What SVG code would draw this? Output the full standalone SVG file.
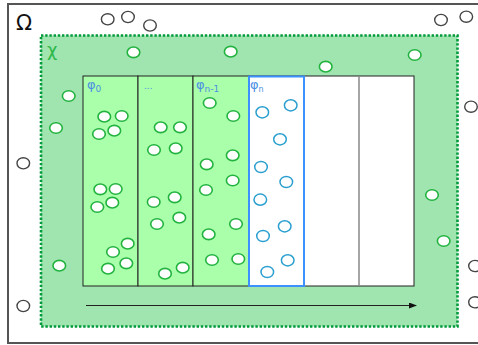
<svg xmlns="http://www.w3.org/2000/svg" width="478" height="345" viewBox="0 0 478 345">
<style>
.g{fill:#fff;stroke:#22b33f;stroke-width:1.6}
.b{fill:#fff;stroke:#2a9fd0;stroke-width:1.5}
.k{fill:#fff;stroke:#444;stroke-width:1.4}
.lab{font-family:"DejaVu Sans",sans-serif;fill:#4a90e2}
.strip{stroke:#222;stroke-width:1}
</style>
<defs>
<marker id="ah" markerWidth="8" markerHeight="6" refX="7" refY="3" orient="auto" markerUnits="userSpaceOnUse">
<path d="M0,0 L8,3 L0,6 Z" fill="#111"/>
</marker>
</defs>
<rect width="478" height="345" fill="#fff"/>
<g id="omega">
<rect x="8" y="4" width="480" height="339" fill="none" stroke="#555" stroke-width="2"/>
<text x="16" y="30" font-family="DejaVu Sans,sans-serif" font-size="21" fill="#111">Ω</text>
</g>
<g id="chi">
<rect x="41" y="35.5" width="416.5" height="291" fill="#a0e4b0" stroke="#009a3a" stroke-width="2.6" stroke-dasharray="2.4 1.8"/>
<text x="47" y="56" font-family="DejaVu Sans,sans-serif" font-size="18" fill="#2db84a">χ</text>
</g>
<g id="strips">
<rect id="phi0" class="strip" x="83" y="76" width="55" height="210" fill="#aaffaa"/>
<rect id="phidots" class="strip" x="138" y="76" width="55" height="210" fill="#aaffaa"/>
<rect id="phin1" class="strip" x="193" y="76" width="56" height="210" fill="#aaffaa"/>
<rect class="strip" x="249" y="76" width="165" height="210" fill="#fff"/>
<line x1="359" y1="76" x2="359" y2="286" stroke="#888" stroke-width="1.5"/>
<rect id="phin" x="249" y="76.5" width="55" height="209.5" fill="#fff" stroke="#3c90ff" stroke-width="2"/>
<text class="lab" x="87" y="89" font-size="13">φ<tspan font-size="9" dy="3">0</tspan></text>
<text class="lab" x="144" y="89" font-size="9">...</text>
<text class="lab" x="196" y="89" font-size="13">φ<tspan font-size="9" dy="3">n-1</tspan></text>
<text class="lab" x="250" y="89" font-size="13">φ<tspan font-size="8" dy="3">n</tspan></text>
</g>
<g id="connectors">
<line x1="86" y1="305.5" x2="416" y2="305.5" stroke="#222" stroke-width="1" marker-end="url(#ah)"/>
</g>
<g id="gray-circles">
<ellipse class="k" cx="107.7" cy="19.3" rx="6.3" ry="5.6"/>
<ellipse class="k" cx="128" cy="17" rx="6.3" ry="5.6"/>
<ellipse class="k" cx="150" cy="25.5" rx="6.3" ry="5.6"/>
<ellipse class="k" cx="441" cy="20" rx="6.3" ry="5.6"/>
<ellipse class="k" cx="466.3" cy="16.7" rx="6.3" ry="5.6"/>
<ellipse class="k" cx="471" cy="106.7" rx="6.3" ry="5.6"/>
<ellipse class="k" cx="23.3" cy="163.3" rx="6.3" ry="5.6"/>
<ellipse class="k" cx="475" cy="266" rx="6.3" ry="5.6"/>
<ellipse class="k" cx="23.3" cy="306" rx="6.3" ry="5.6"/>
<ellipse class="k" cx="475" cy="302.3" rx="6.3" ry="5.6"/>
</g>
<g id="green-circles">
<ellipse class="g" cx="133.5" cy="52.3" rx="6.3" ry="5.3"/>
<ellipse class="g" cx="230.7" cy="51.7" rx="6.3" ry="5.3"/>
<ellipse class="g" cx="325.7" cy="66.7" rx="6.3" ry="5.3"/>
<ellipse class="g" cx="414.7" cy="55" rx="6.3" ry="5.3"/>
<ellipse class="g" cx="68.7" cy="96" rx="6.3" ry="5.3"/>
<ellipse class="g" cx="56" cy="128" rx="6.3" ry="5.3"/>
<ellipse class="g" cx="432" cy="195" rx="6.3" ry="5.3"/>
<ellipse class="g" cx="443.7" cy="241" rx="6.3" ry="5.3"/>
<ellipse class="g" cx="59.3" cy="265.7" rx="6.3" ry="5.3"/>
<ellipse class="g" cx="104.3" cy="116.7" rx="6.3" ry="5.3"/>
<ellipse class="g" cx="121.7" cy="116" rx="6.3" ry="5.3"/>
<ellipse class="g" cx="99" cy="134" rx="6.3" ry="5.3"/>
<ellipse class="g" cx="114.3" cy="130.7" rx="6.3" ry="5.3"/>
<ellipse class="g" cx="100.3" cy="189.3" rx="6.3" ry="5.3"/>
<ellipse class="g" cx="115.7" cy="189" rx="6.3" ry="5.3"/>
<ellipse class="g" cx="97.3" cy="207" rx="6.3" ry="5.3"/>
<ellipse class="g" cx="112.3" cy="202.7" rx="6.3" ry="5.3"/>
<ellipse class="g" cx="127.7" cy="243.7" rx="6.3" ry="5.3"/>
<ellipse class="g" cx="113" cy="252" rx="6.3" ry="5.3"/>
<ellipse class="g" cx="126.3" cy="263.3" rx="6.3" ry="5.3"/>
<ellipse class="g" cx="108" cy="268.7" rx="6.3" ry="5.3"/>
<ellipse class="g" cx="160.7" cy="127.3" rx="6.3" ry="5.3"/>
<ellipse class="g" cx="180" cy="127.3" rx="6.3" ry="5.3"/>
<ellipse class="g" cx="154" cy="150" rx="6.3" ry="5.3"/>
<ellipse class="g" cx="175.7" cy="148.3" rx="6.3" ry="5.3"/>
<ellipse class="g" cx="153.7" cy="202" rx="6.3" ry="5.3"/>
<ellipse class="g" cx="174.7" cy="197.3" rx="6.3" ry="5.3"/>
<ellipse class="g" cx="157" cy="224" rx="6.3" ry="5.3"/>
<ellipse class="g" cx="179.3" cy="217.7" rx="6.3" ry="5.3"/>
<ellipse class="g" cx="165" cy="273.7" rx="6.3" ry="5.3"/>
<ellipse class="g" cx="182.7" cy="267.7" rx="6.3" ry="5.3"/>
<ellipse class="g" cx="209.7" cy="103" rx="6.3" ry="5.3"/>
<ellipse class="g" cx="233.3" cy="116" rx="6.3" ry="5.3"/>
<ellipse class="g" cx="206.7" cy="164.3" rx="6.3" ry="5.3"/>
<ellipse class="g" cx="232.7" cy="155.3" rx="6.3" ry="5.3"/>
<ellipse class="g" cx="232.7" cy="180.5" rx="6.3" ry="5.3"/>
<ellipse class="g" cx="206" cy="190" rx="6.3" ry="5.3"/>
<ellipse class="g" cx="208.7" cy="234.3" rx="6.3" ry="5.3"/>
<ellipse class="g" cx="236" cy="224" rx="6.3" ry="5.3"/>
<ellipse class="g" cx="212" cy="260" rx="6.3" ry="5.3"/>
<ellipse class="g" cx="238.3" cy="259" rx="6.3" ry="5.3"/>
</g>
<g id="blue-circles">
<ellipse class="b" cx="262.3" cy="112.3" rx="6.3" ry="5.6"/>
<ellipse class="b" cx="290.7" cy="105.3" rx="6.3" ry="5.6"/>
<ellipse class="b" cx="280" cy="139.3" rx="6.3" ry="5.6"/>
<ellipse class="b" cx="261" cy="167" rx="6.3" ry="5.6"/>
<ellipse class="b" cx="286.3" cy="182" rx="6.3" ry="5.6"/>
<ellipse class="b" cx="260.3" cy="199.7" rx="6.3" ry="5.6"/>
<ellipse class="b" cx="284.7" cy="226.3" rx="6.3" ry="5.6"/>
<ellipse class="b" cx="263" cy="236" rx="6.3" ry="5.6"/>
<ellipse class="b" cx="287.7" cy="260.3" rx="6.3" ry="5.6"/>
<ellipse class="b" cx="267.3" cy="272" rx="6.3" ry="5.6"/>
</g>
</svg>
